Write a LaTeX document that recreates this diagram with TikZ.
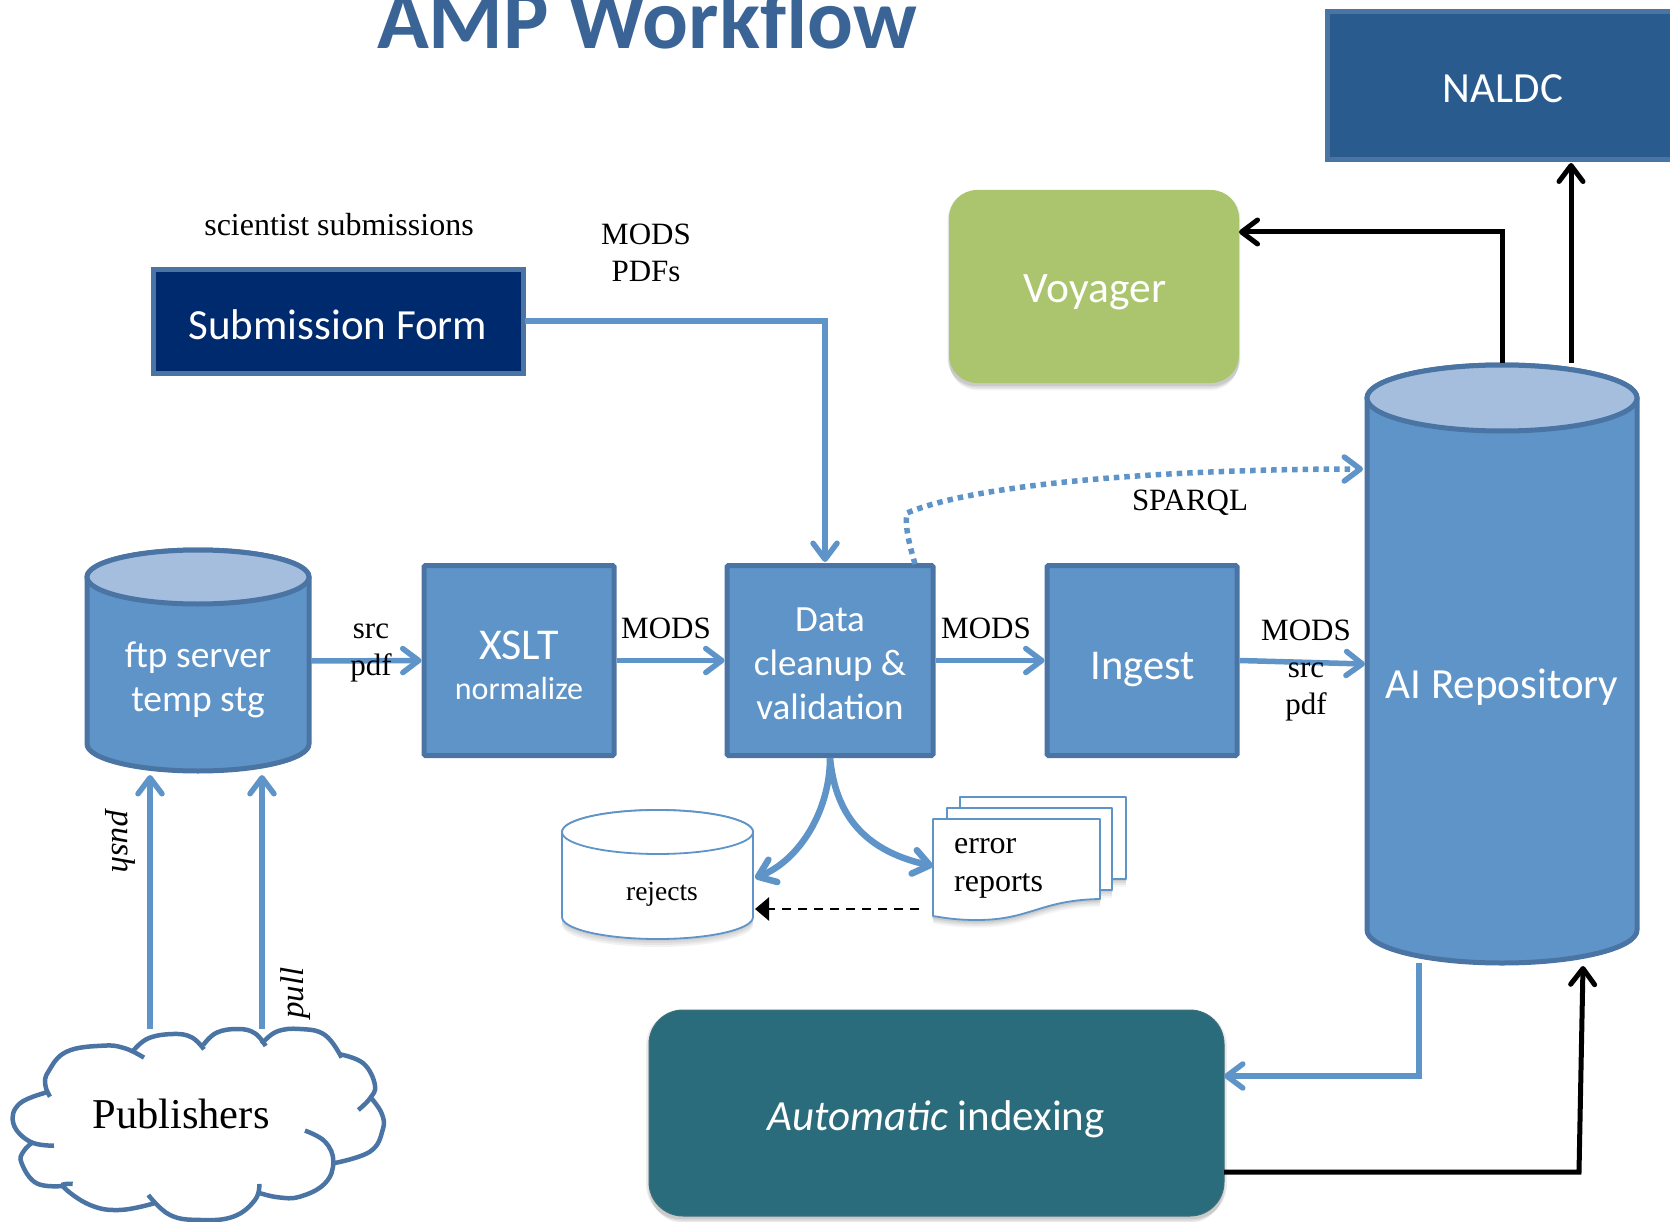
\documentclass[tikz,border=0pt]{standalone}
\usepackage{fontspec}
\setmainfont{Liberation Serif}
\newfontfamily\crb{Carlito}
\usetikzlibrary{arrows.meta,shadows,calc}
\definecolor{boxblue}{HTML}{5F94C8}
\definecolor{edgeblue}{HTML}{4A74A4}
\definecolor{topblue}{HTML}{A5BEDD}
\definecolor{navyfill}{HTML}{002A6E}
\definecolor{nalfill}{HTML}{2A5B8F}
\definecolor{voyfill}{HTML}{ABC56E}
\definecolor{idxfill}{HTML}{2A6B7C}
\definecolor{titleblue}{HTML}{3A6496}
\newcommand\fs[1]{\fontsize{#1}{#1}\selectfont}
% x1 x2 ytop ybot ry bodyfill topfill edge+width
\newcommand\cylshape[8]{%
 \pgfmathsetmacro\cxm{(#1+#2)/2}\pgfmathsetmacro\crx{(#2-#1)/2}%
 \pgfmathsetmacro\cky{0.5523*#5}\pgfmathsetmacro\ckx{0.5523*\crx}%
 \pgfmathsetmacro\cyt{#3+#5}\pgfmathsetmacro\cyb{#4-#5}%
 \draw[#8,fill=#6,line join=round] (#1,\cyt) -- (#1,\cyb)
  .. controls (#1,\cyb+\cky) and (\cxm-\ckx,#4) .. (\cxm,#4)
  .. controls (\cxm+\ckx,#4) and (#2,\cyb+\cky) .. (#2,\cyb) -- (#2,\cyt)
  .. controls (#2,\cyt-\cky) and (\cxm+\ckx,#3) .. (\cxm,#3)
  .. controls (\cxm-\ckx,#3) and (#1,\cyt-\cky) .. (#1,\cyt) -- cycle;
 \draw[#8,fill=#7] (#1,\cyt)
  .. controls (#1,\cyt-\cky) and (\cxm-\ckx,#3) .. (\cxm,#3)
  .. controls (\cxm+\ckx,#3) and (#2,\cyt-\cky) .. (#2,\cyt)
  .. controls (#2,\cyt+\cky) and (\cxm+\ckx,#3+2*#5) .. (\cxm,#3+2*#5)
  .. controls (\cxm-\ckx,#3+2*#5) and (#1,\cyt+\cky) .. (#1,\cyt) -- cycle;
}
\tikzset{
 x=1pt,y=-1pt,
 bluebox/.style={draw=edgeblue,line width=5pt,fill=boxblue,rounded corners=1.5pt,inner sep=0pt},
 softshadow/.style={
  drop shadow={shadow xshift=0pt,shadow yshift=-8pt,shadow scale=.995,opacity=.04,fill=black},
  drop shadow={shadow xshift=0pt,shadow yshift=-6pt,shadow scale=1,opacity=.05,fill=black},
  drop shadow={shadow xshift=0pt,shadow yshift=-4pt,shadow scale=1.005,opacity=.06,fill=black},
  drop shadow={shadow xshift=0pt,shadow yshift=-2pt,shadow scale=1.01,opacity=.07,fill=black}},
 ghost/.style={inner sep=0pt,minimum width=#1},
 lab/.style={inner sep=0pt,font=\fs{31},align=center},
 wlab/.style={inner sep=0pt,text=white,font=\crb\fs{43},align=center},
 flow/.style={draw=boxblue,line width=5.5pt,-{Straight Barb[length=16pt,width=24pt,round]}},
 blackflow/.style={draw=black,line width=5pt,line join=miter,-{Straight Barb[length=16pt,width=24pt,round]}},
 cloudline/.style={draw=edgeblue,line width=4.5pt},
 docline/.style={draw=boxblue,line width=1.8pt,fill=white,line join=round},
}
\begin{document}
\begin{tikzpicture}
\useasboundingbox (0,0) rectangle (1670,1222);
\fill[white] (0,0) rectangle (1670,1222);
% title and box cut by the page edge
\begin{scope}
\clip (0,0) rectangle (1670,1222);
\node[anchor=base,inner sep=0pt,text=titleblue,font=\crb\bfseries\fs{85.5}] (title) at (647,49) {AMP Workflow};
\node[draw=edgeblue,line width=5pt,fill=nalfill,minimum width=345pt,minimum height=148pt,inner sep=0pt] (naldcbox) at (1500,86) {};
\node[wlab] (naldc) at (1503,89) {NALDC};
\end{scope}
\node[fill=voyfill,rounded corners=28pt,minimum width=290pt,minimum height=193pt,softshadow,inner sep=0pt] (voyager) at (1094,286.5) {};
\node[wlab,font=\crb\fs{43.5}] (voyagertext) at (1095,292) {Voyager};
\node[draw=edgeblue,line width=5pt,fill=navyfill,minimum width=370pt,minimum height=104pt,inner sep=0pt] (submit) at (338,321.5) {};
\node[wlab] (submittext) at (338,325) {Submission Form};
\node[lab,font=\fs{32}] (scientist) at (339,225) {scientist submissions};
\node[lab] (modspdf) at (646,253) {MODS\\[6pt]PDFs};
% cylinders
\cylshape{87}{309}{550}{771}{27}{boxblue}{topblue}{draw=edgeblue,line width=5pt}
\node[ghost=222pt,minimum height=221pt] (ftp) at (198,660.5) {};
\node[wlab,font=\crb\fs{37.5}] (ftptext) at (198,680) {ftp server\\[6pt]temp stg};
\cylshape{1367}{1637}{365}{963}{33}{boxblue}{topblue}{draw=edgeblue,line width=5pt}
\node[ghost=270pt,minimum height=598pt] (ai) at (1502,664) {};
\node[wlab] (aitext) at (1502,687) {AI Repository};
% process boxes
\node[bluebox,minimum width=190pt,minimum height=190pt] (xslt) at (519,660.5) {};
\node[wlab,font=\crb\fs{44}] (xslttext) at (519,645) {XSLT};
\node[wlab,font=\crb\fs{32}] (normalize) at (519,689) {normalize};
\node[bluebox,minimum width=206pt,minimum height=190pt] (data) at (830,660.5) {};
\node[wlab,font=\crb\fs{37}] (datatext) at (830,664) {Data\\[7pt]cleanup \&\\[7pt]validation};
\node[bluebox,minimum width=190pt,minimum height=190pt] (ingest) at (1142,660.5) {};
\node[wlab,font=\crb\fs{42.5}] (ingesttext) at (1143,670) {Ingest};
% automatic indexing
\node[fill=idxfill,draw=idxfill!75!gray,line width=1pt,rounded corners=34pt,minimum width=575pt,minimum height=206pt,softshadow,inner sep=0pt] (autoindex) at (936.5,1113) {};
\node[wlab,font=\crb\fs{43}] (autotext) at (936,1119) {\itshape Automatic\upshape\ indexing};
% rejects
\foreach \d in {2,4,6,8}{
 \fill[black,opacity=.05] (562,880+\d) -- (562,917+\d) .. controls (562,929+\d) and (605,939+\d) .. (657,939+\d) .. controls (710,939+\d) and (753,929+\d) .. (753,917+\d) -- (753,880+\d) -- cycle;
}
\cylshape{562}{753}{810}{939}{22}{white}{white}{draw=boxblue,line width=1.8pt}
\node[ghost=191pt,minimum height=129pt] (rejects) at (657.5,874.5) {};
\node[inner sep=0pt,font=\fs{27.5}] (rejectstext) at (662,894) {rejects};
% stacked documents
\draw[docline,softshadow] (960,797) -- (1126,797) -- (1126,879) -- (960,879) -- cycle;
\draw[docline,softshadow] (947,808) -- (1112,808) -- (1112,890) -- (947,890) -- cycle;
\draw[docline,softshadow] (933,819) -- (1100,819) -- (1100,899) .. controls (1040,900) and (1030,920) .. (977,920) .. controls (957,920) and (945,918) .. (933,916) -- cycle;
\node[inner sep=0pt,anchor=west,align=left,font=\fs{32}] (errortext) at (954,868) {error\\[6pt]reports};
% cloud
\foreach \pts in {
 {(150,410)(136,375)(145,335)(200,275)(310,257)(375,265)(432,293)},
 {(400,272)(445,235)(520,222)(575,232)(612,268)},
 {(610,255)(650,218)(715,207)(765,220)(797,258)},
 {(785,252)(830,215)(900,207)(975,225)(1025,293)},
 {(1020,283)(1090,310)(1125,375)(1110,415)(1075,450)},
 {(1110,410)(1145,460)(1148,510)(1110,575)(1000,610)},
 {(915,512)(975,545)(1000,605)(975,670)(900,710)(835,712)(775,698)},
 {(778,672)(765,720)(700,770)(600,780)(510,765)(445,705)},
 {(462,730)(360,750)(270,735)(190,680)(218,672)},
 {(190,678)(110,670)(65,610)(70,575)(100,545)},
 {(162,557)(90,545)(40,490)(60,430)(148,395)}}{
 \edef\tmpcloud{\noexpand\draw[cloudline] plot[smooth,tension=.7] coordinates {\pts};}
 \begin{scope}[x=0.3333pt,y=-0.3333pt,yshift=-960pt]\tmpcloud\end{scope}
}
\node[inner sep=0pt,font=\fs{42.5}] (publishers) at (181,1114) {Publishers};
% connector anchors
\coordinate (pushS) at (150,1029);
\coordinate (pullS) at (262,1029);
\coordinate (pushE) at (150,775);
\coordinate (pullE) at (262,775);
\coordinate (ftpE) at (311,661);
\coordinate (subE) at (525,321);
\coordinate (dataT) at (825,562);
\coordinate (voyE) at (1239,232);
\coordinate (aiA) at (1502,363);
\coordinate (aiB) at (1571,363);
\coordinate (nalB) at (1571,163);
\coordinate (aiBl) at (1419,963);
\coordinate (idxA) at (1224,1076);
\coordinate (idxB) at (1224,1172);
\coordinate (idxC) at (1579,1172);
\coordinate (aiBr) at (1583,966);
\coordinate (dataS) at (915,564);
\coordinate (aiS) at (1363,469);
\coordinate (aiI) at (1365,664);
\coordinate (dataB) at (830,758);
\coordinate (rejA) at (755,878);
\coordinate (errA) at (933,866);
\coordinate (errD) at (919,909);
\coordinate (rejD) at (755,909);
% connectors
\draw[flow] (pushS) -- (pushE);
\draw[flow] (pullS) -- (pullE);
\draw[flow] (ftpE) -- (xslt.west);
\draw[flow] (xslt.east) -- (data.west);
\draw[flow] (data.east) -- (ingest.west);
\draw[flow] (ingest.east) -- (aiI);
\draw[flow] (subE) -- (dataT |- subE) -- (dataT);
\draw[flow] (aiBl) -- (aiBl |- idxA) -- (idxA);
\draw[flow,dash pattern=on 5.5pt off 5pt] (dataS) .. controls (908,540) and (905,525) .. (907,513) .. controls (980,482) and (1180,469) .. (aiS);
\draw[flow,line width=6.5pt] (dataB) .. controls (830,810) and (800,860) .. (rejA);
\draw[flow,line width=6.5pt] (dataB) .. controls (835,810) and (860,850) .. (errA);
\draw[blackflow] (aiA) -- (aiA |- voyE) -- (voyE);
\draw[blackflow] (aiB) -- (nalB);
\draw[blackflow] (idxB) -- (idxC) -- (aiBr);
\draw[draw=black,line width=2.6pt,dash pattern=on 9pt off 7pt,-{Triangle[length=14pt,width=23pt]}] (errD) -- (rejD);
% labels
\node[lab] (srcpdf) at (371,653) {src\\[6pt]pdf};
\node[lab] (mods1) at (666,628) {MODS};
\node[lab] (mods2) at (986,628) {MODS};
\node[lab] (mods3) at (1306,630) {MODS};
\node[lab] (srcpdf2) at (1306,692) {src\\[6pt]pdf};
\node[lab] (sparql) at (1190,503) {SPARQL};
\node[lab,rotate=-90,font=\itshape\fs{33}] (push) at (120,842) {push};
\node[lab,rotate=90,font=\itshape\fs{33}] (pull) at (296,993) {pull};
\end{tikzpicture}
\end{document}
